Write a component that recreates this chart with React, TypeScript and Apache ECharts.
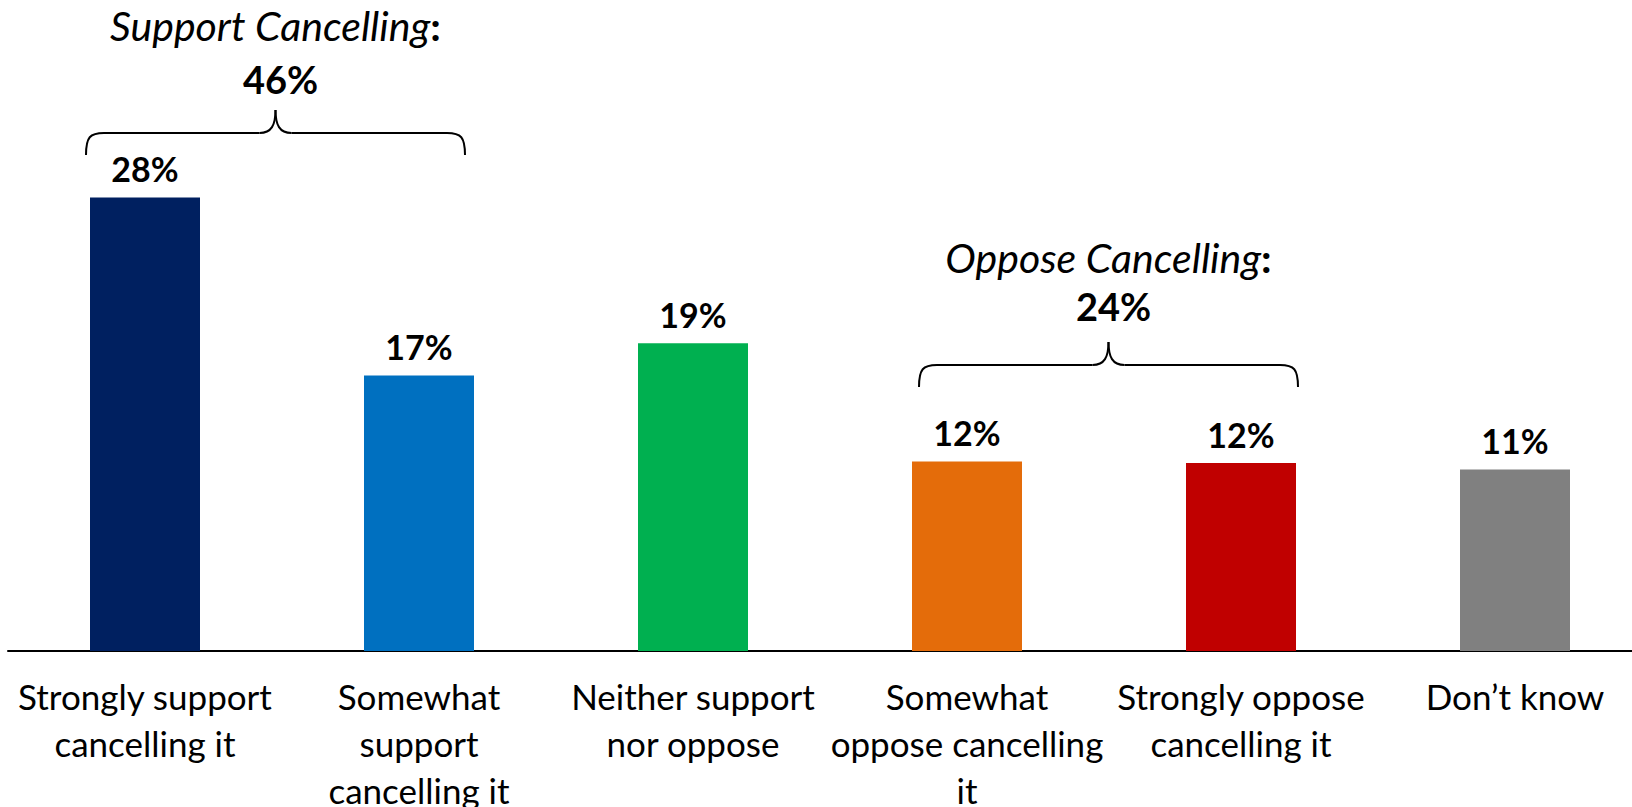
import React, { useEffect, useRef } from "react";
import * as echarts from "echarts";

const categories = [
  "Strongly support\ncancelling it",
  "Somewhat\nsupport\ncancelling it",
  "Neither support\nnor oppose",
  "Somewhat\noppose cancelling\nit",
  "Strongly oppose\ncancelling it",
  "Don\u2019t know",
];
const values = [28, 17, 19, 11.7, 11.6, 11.2];
const barColors = ["#002060", "#0070C0", "#00B050", "#E46C0A", "#C00000", "#808080"];

const groupNames = ["Support Cancelling", "Oppose Cancelling"];
const groupTotals = ["46%", "24%"];
const groupFrom = [0, 3];
const groupTo = [1, 4];

const FONT = "Lato, 'Open Sans', sans-serif";

export default function App() {
  const ref = useRef<HTMLDivElement>(null);
  useEffect(() => {
    if (!ref.current) return;
    const chart = echarts.init(ref.current, null, { renderer: "svg" });
    const option: any = {
      animation: false,
      backgroundColor: "#ffffff",
      grid: {
        left: 8,
        width: 1644,
        top: 3,
        bottom: 156,
        containLabel: false,
        outerBoundsMode: "none",
      },
      xAxis: {
        type: "category",
        data: categories,
        axisLine: { show: true, lineStyle: { color: "#000", width: 2 } },
        axisTick: { show: false },
        axisLabel: {
          interval: 0,
          color: "#000",
          fontFamily: FONT,
          fontSize: 35,
          lineHeight: 47,
          margin: 21,
        },
      },
      yAxis: {
        type: "value",
        min: 0,
        max: 40,
        show: false,
        splitLine: { show: false },
      },
      series: [
        {
          type: "bar",
          barWidth: 110,
          data: values.map((v, i) => ({ value: v, itemStyle: { color: barColors[i] } })),
          label: {
            show: true,
            position: "top",
            distance: 12,
            color: "#000",
            fontFamily: FONT,
            fontWeight: "bold",
            fontSize: 34,
            formatter: (p: any) => Math.round(p.value) + "%",
          },
        },
      ],
    };
    chart.setOption(option);

    const braceY = [133, 365];
    const braceLeftOffset = [-59, -48];
    const braceRightOffset = [46, 57];
    const titleY = [25, 257];
    const totalY = [79, 306];
    const stroke = { stroke: "#000", lineWidth: 2, fill: null };
    const elements: any[] = [];
    for (let g = 0; g < groupNames.length; g++) {
      const cFrom = chart.convertToPixel({ xAxisIndex: 0 }, groupFrom[g]) as number;
      const cTo = chart.convertToPixel({ xAxisIndex: 0 }, groupTo[g]) as number;
      const x1 = cFrom + braceLeftOffset[g];
      const x2 = cTo + braceRightOffset[g];
      const xm = (x1 + x2) / 2;
      const yH = braceY[g];
      const h = 22;
      const r = 18;
      const m = 16;
      const pk = 23;
      elements.push(
        { type: "bezierCurve", shape: { x1: x1, y1: yH + h, cpx1: x1, cpy1: yH + 4, cpx2: x1 + 4, cpy2: yH, x2: x1 + r, y2: yH }, style: stroke },
        { type: "line", shape: { x1: x1 + r, y1: yH, x2: xm - m, y2: yH }, style: stroke },
        { type: "bezierCurve", shape: { x1: xm - m, y1: yH, cpx1: xm - 4, cpy1: yH, cpx2: xm, cpy2: yH - 8, x2: xm, y2: yH - pk }, style: stroke },
        { type: "bezierCurve", shape: { x1: xm + m, y1: yH, cpx1: xm + 4, cpy1: yH, cpx2: xm, cpy2: yH - 8, x2: xm, y2: yH - pk }, style: stroke },
        { type: "line", shape: { x1: xm + m, y1: yH, x2: x2 - r, y2: yH }, style: stroke },
        { type: "bezierCurve", shape: { x1: x2, y1: yH + h, cpx1: x2, cpy1: yH + 4, cpx2: x2 - 4, cpy2: yH, x2: x2 - r, y2: yH }, style: stroke },
        {
          type: "text",
          x: xm,
          y: titleY[g],
          style: {
            text: "{i|" + groupNames[g] + "}{b|:}",
            align: "center",
            verticalAlign: "middle",
            rich: {
              i: { fontFamily: FONT, fontStyle: "italic", fontSize: 41, fill: "#000" },
              b: { fontFamily: FONT, fontWeight: "bold", fontSize: 41, fill: "#000" },
            },
          },
        },
        {
          type: "text",
          x: xm + 5,
          y: totalY[g],
          style: {
            text: groupTotals[g],
            align: "center",
            verticalAlign: "middle",
            font: "bold 38px " + FONT,
            fill: "#000",
          },
        }
      );
    }
    chart.setOption({ graphic: { elements } });
    return () => chart.dispose();
  }, []);
  return (
    <div
      ref={ref}
      style={{ position: "fixed", left: 0, top: 0, width: 1632, height: 807, background: "#fff" }}
    />
  );
}
